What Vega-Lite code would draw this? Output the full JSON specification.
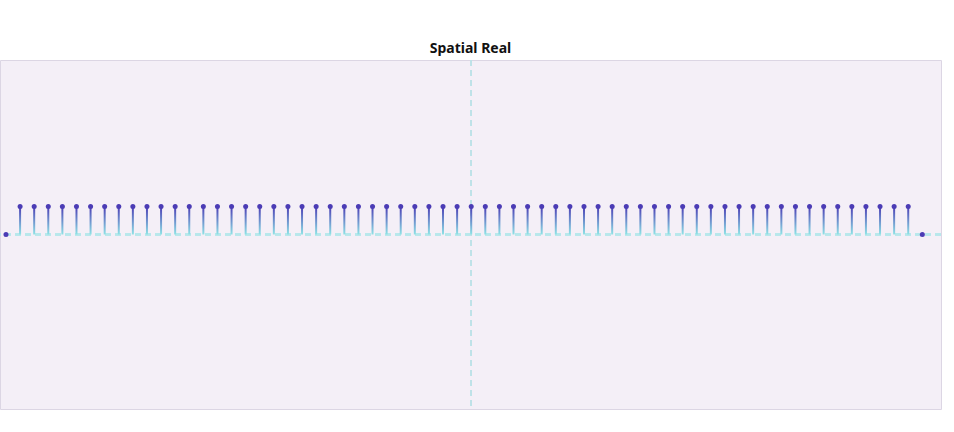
{
"$schema":"https://vega.github.io/schema/vega-lite/v6.json",
"width":941,"height":349,"autosize":"none",
"padding":{"left":0,"top":60,"right":13,"bottom":23},
"background":"white",
"view":{"fill":"#f4eff7","stroke":"#dcd6e4"},
"title":{"text":"Spatial Real","font":"Noto Sans","fontSize":14,"fontWeight":"bold","color":"#111","offset":3},
"data":{"values":[
{"x":-33,"v":0},{"x":-32,"v":0.16},{"x":-31,"v":0.16},{"x":-30,"v":0.16},{"x":-29,"v":0.16},{"x":-28,"v":0.16},{"x":-27,"v":0.16},{"x":-26,"v":0.16},{"x":-25,"v":0.16},{"x":-24,"v":0.16},{"x":-23,"v":0.16},{"x":-22,"v":0.16},{"x":-21,"v":0.16},{"x":-20,"v":0.16},{"x":-19,"v":0.16},{"x":-18,"v":0.16},{"x":-17,"v":0.16},{"x":-16,"v":0.16},{"x":-15,"v":0.16},{"x":-14,"v":0.16},{"x":-13,"v":0.16},{"x":-12,"v":0.16},{"x":-11,"v":0.16},{"x":-10,"v":0.16},{"x":-9,"v":0.16},{"x":-8,"v":0.16},{"x":-7,"v":0.16},{"x":-6,"v":0.16},{"x":-5,"v":0.16},{"x":-4,"v":0.16},{"x":-3,"v":0.16},{"x":-2,"v":0.16},{"x":-1,"v":0.16},{"x":0,"v":0.16},{"x":1,"v":0.16},{"x":2,"v":0.16},{"x":3,"v":0.16},{"x":4,"v":0.16},{"x":5,"v":0.16},{"x":6,"v":0.16},{"x":7,"v":0.16},{"x":8,"v":0.16},{"x":9,"v":0.16},{"x":10,"v":0.16},{"x":11,"v":0.16},{"x":12,"v":0.16},{"x":13,"v":0.16},{"x":14,"v":0.16},{"x":15,"v":0.16},{"x":16,"v":0.16},{"x":17,"v":0.16},{"x":18,"v":0.16},{"x":19,"v":0.16},{"x":20,"v":0.16},{"x":21,"v":0.16},{"x":22,"v":0.16},{"x":23,"v":0.16},{"x":24,"v":0.16},{"x":25,"v":0.16},{"x":26,"v":0.16},{"x":27,"v":0.16},{"x":28,"v":0.16},{"x":29,"v":0.16},{"x":30,"v":0.16},{"x":31,"v":0.16},{"x":32,"v":0}
]},
"layer":[
{"mark":{"type":"rule","color":"#b9e6ea","strokeDash":[6,4],"strokeWidth":1.5},"encoding":{"y":{"datum":0,"type":"quantitative","scale":{"domain":[-1,1],"nice":false},"axis":null}}},
{"mark":{"type":"rule","color":"#bfe2e8","strokeDash":[6,4],"strokeWidth":1.5},"encoding":{"x":{"datum":0,"type":"quantitative","scale":{"domain":[-33.07,32.97],"nice":false,"zero":false},"axis":null}}},
{"mark":{"type":"bar","width":2,"color":{"gradient":"linear","x1":0,"y1":0,"x2":0,"y2":1,"stops":[{"offset":0,"color":"#4b3cb5"},{"offset":1,"color":"#8fe3e6"}]}},"encoding":{
"x":{"field":"x","type":"quantitative","scale":{"domain":[-33.07,32.97],"nice":false,"zero":false},"axis":null},
"y":{"field":"v","type":"quantitative","scale":{"domain":[-1,1],"nice":false},"axis":null},
"y2":{"datum":0}}},
{"mark":{"type":"point","filled":true,"size":25,"color":"#4b3cb5","opacity":1},"encoding":{
"x":{"field":"x","type":"quantitative","scale":{"domain":[-33.07,32.97],"nice":false,"zero":false},"axis":null},
"y":{"field":"v","type":"quantitative","scale":{"domain":[-1,1],"nice":false},"axis":null}}}
]
}
